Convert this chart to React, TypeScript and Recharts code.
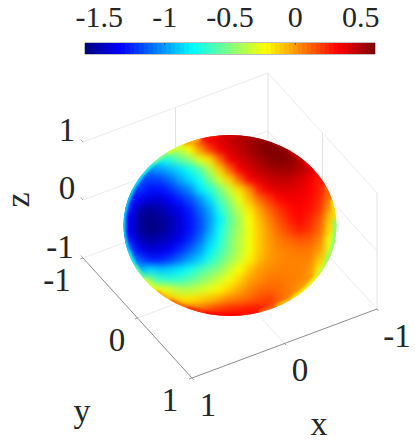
import React from 'react';
import {
  Bar,
  BarChart,
  ReferenceArea,
  ReferenceLine,
  Scatter,
  ScatterChart,
  XAxis,
  YAxis,
} from 'recharts';

const WIDTH = 415;
const HEIGHT = 446;
const SERIF = '"Liberation Serif", serif';

// colour scale limits
const V_MIN = -1.61;
const V_MAX = 0.61;

const colorbarTicks = [-1.5, -1, -0.5, 0, 0.5];
const colorbarLevels = [
  -1.593, -1.558, -1.523, -1.488, -1.454, -1.419, -1.384, -1.35, -1.315, -1.28, -1.245, -1.211, -1.176, -1.141, -1.107, -1.072,
  -1.037, -1.002, -0.968, -0.933, -0.898, -0.864, -0.829, -0.794, -0.759, -0.725, -0.69, -0.655, -0.621, -0.586, -0.551, -0.516,
  -0.482, -0.447, -0.412, -0.378, -0.343, -0.308, -0.273, -0.239, -0.204, -0.169, -0.135, -0.1, -0.065, -0.03, 0.004, 0.039,
  0.074, 0.108, 0.143, 0.178, 0.213, 0.247, 0.282, 0.317, 0.351, 0.386, 0.421, 0.456, 0.49, 0.525, 0.56, 0.594,
];

// sphere surface sampled on the picture plane
const sphereColumns = [120, 130, 140, 150, 160, 170, 180, 190, 200, 210, 220, 230, 240, 250, 260, 270, 280, 290, 300, 310, 320, 330, 340];
const sphereRows = [130, 140, 150, 160, 170, 180, 190, 200, 210, 220, 230, 240, 250, 260, 270, 280, 290, 300, 310, 320];
const sphereValues = [
  [-0.3, -0.3, -0.3, -0.3, -0.25, -0.2, -0.1, 0.05, 0.25, 0.38, 0.42, 0.47, 0.5, 0.52, 0.53, 0.55, 0.55, 0.52, 0.5, 0.45, 0.4, 0.35, 0.3],
  [-0.4, -0.4, -0.4, -0.35, -0.3, -0.25, -0.15, -0.03, 0.2, 0.36, 0.4, 0.45, 0.5, 0.54, 0.57, 0.58, 0.57, 0.54, 0.5, 0.45, 0.4, 0.35, 0.3],
  [-0.6, -0.6, -0.55, -0.5, -0.45, -0.42, -0.36, -0.22, 0, 0.2, 0.36, 0.42, 0.47, 0.53, 0.59, 0.61, 0.6, 0.56, 0.5, 0.45, 0.4, 0.35, 0.3],
  [-0.85, -0.85, -0.85, -0.82, -0.76, -0.68, -0.57, -0.47, -0.28, -0.16, 0.1, 0.35, 0.42, 0.48, 0.53, 0.59, 0.61, 0.58, 0.5, 0.42, 0.38, 0.35, 0.3],
  [-1.05, -1.05, -1.05, -1.05, -1, -0.93, -0.85, -0.74, -0.6, -0.38, -0.12, 0.12, 0.34, 0.42, 0.48, 0.52, 0.54, 0.54, 0.5, 0.42, 0.38, 0.35, 0.3],
  [-1.2, -1.2, -1.15, -1.2, -1.18, -1.1, -0.97, -0.86, -0.74, -0.52, -0.32, -0.12, 0.12, 0.34, 0.39, 0.44, 0.47, 0.46, 0.42, 0.36, 0.28, 0.18, 0.1],
  [-1.3, -1.25, -1.22, -1.3, -1.3, -1.24, -1.13, -1.03, -0.83, -0.7, -0.52, -0.33, -0.15, 0.03, 0.28, 0.37, 0.4, 0.4, 0.38, 0.34, 0.27, 0.12, 0],
  [-1.3, -1.25, -1.35, -1.42, -1.42, -1.35, -1.27, -1.17, -1.03, -0.85, -0.62, -0.45, -0.26, -0.07, 0.1, 0.22, 0.32, 0.35, 0.35, 0.32, 0.25, 0.05, -0.1],
  [-1.3, -1.3, -1.5, -1.55, -1.52, -1.45, -1.37, -1.27, -1.12, -0.96, -0.72, -0.52, -0.35, -0.18, -0.02, 0.12, 0.22, 0.3, 0.33, 0.3, 0.21, -0.02, -0.2],
  [-1.35, -1.35, -1.55, -1.6, -1.57, -1.5, -1.42, -1.3, -1.17, -1, -0.8, -0.58, -0.4, -0.22, -0.07, 0.05, 0.17, 0.26, 0.32, 0.25, 0.15, -0.12, -0.5],
  [-1.35, -1.35, -1.55, -1.6, -1.58, -1.5, -1.42, -1.3, -1.17, -0.98, -0.75, -0.55, -0.4, -0.24, -0.1, 0.02, 0.12, 0.2, 0.27, 0.22, 0.11, -0.15, -0.5],
  [-1.3, -1.3, -1.47, -1.53, -1.5, -1.45, -1.37, -1.25, -1.1, -0.9, -0.72, -0.52, -0.37, -0.24, -0.1, 0, 0.07, 0.12, 0.15, 0.14, 0.05, -0.25, -0.5],
  [-1.15, -1.15, -1.35, -1.42, -1.4, -1.35, -1.25, -1.13, -1, -0.82, -0.66, -0.5, -0.37, -0.24, -0.1, -0.01, 0.04, 0.06, 0.08, 0.07, 0, -0.3, -0.5],
  [-1, -1, -1.15, -1.27, -1.27, -1.2, -1.1, -0.98, -0.88, -0.72, -0.58, -0.45, -0.33, -0.2, -0.07, 0, 0.03, 0.05, 0.05, 0.05, -0.1, -0.4, -0.5],
  [-0.9, -0.9, -0.95, -0.85, -0.9, -0.88, -0.82, -0.74, -0.64, -0.55, -0.47, -0.34, -0.22, -0.1, 0, 0.03, 0.05, 0.05, 0.05, 0.02, -0.2, -0.4, -0.5],
  [-0.6, -0.6, -0.6, -0.5, -0.65, -0.68, -0.66, -0.6, -0.5, -0.42, -0.33, -0.24, -0.13, -0.02, 0.03, 0.07, 0.08, 0.06, 0.05, 0, -0.2, -0.4, -0.5],
  [-0.3, -0.3, -0.3, -0.3, -0.25, -0.3, -0.38, -0.38, -0.33, -0.27, -0.2, -0.12, -0.03, 0.04, 0.1, 0.12, 0.1, 0.06, 0, -0.1, -0.2, -0.3, -0.4],
  [-0.1, -0.1, -0.1, -0.1, -0.1, -0.1, -0.15, -0.17, -0.13, -0.08, -0.02, 0.05, 0.08, 0.12, 0.17, 0.2, 0.12, 0.05, 0, -0.1, -0.1, -0.1, -0.1],
  [0.1, 0.1, 0.1, 0.1, 0.1, 0.1, 0.1, 0.1, 0.12, 0.17, 0.22, 0.25, 0.27, 0.3, 0.28, 0.2, 0.1, 0.05, 0, 0, 0, 0, 0],
  [0.3, 0.3, 0.3, 0.3, 0.3, 0.3, 0.3, 0.3, 0.3, 0.3, 0.33, 0.33, 0.33, 0.33, 0.33, 0.25, 0.15, 0.1, 0.1, 0.1, 0.1, 0.1, 0.1],
];

// values right at the silhouette, going round it clockwise from the right edge
const rimAngles = [0, 10, 20, 30, 40, 50, 60, 70, 80, 90, 100, 110, 120, 130, 140, 150, 160, 170, 180, 190, 200, 210, 220, 230, 240, 250, 260, 270, 280, 290, 300, 310, 320, 330, 340, 350];
const rimValues = [-0.5, -0.5, -0.45, -0.4, -0.3, -0.2, -0.1, 0.1, 0.28, 0.33, 0.33, 0.25, 0.1, -0.05, -0.3, -0.55, -0.75, -0.85, -0.85, -0.85, -0.85, -0.8, -0.7, -0.5, -0.3, -0.05, 0.3, 0.42, 0.5, 0.55, 0.55, 0.45, 0.38, 0.3, 0.12, -0.15];

const axisTicks = [-1, 0, 1];

const xTickLabels = [
  { x: 208, y: 405, label: '1' },
  { x: 300, y: 370, label: '0' },
  { x: 397, y: 336, label: '-1' },
];
const yTickLabels = [
  { x: 57, y: 280, label: '-1' },
  { x: 117, y: 340, label: '0' },
  { x: 170, y: 400, label: '1' },
];
const zTickLabels = [
  { x: 67, y: 130, label: '1' },
  { x: 67, y: 188, label: '0' },
  { x: 60, y: 247, label: '-1' },
];
const axisNames = [
  { x: 319, y: 424, label: 'x', angle: 0 },
  { x: 82, y: 411, label: 'y', angle: 0 },
  { x: 18, y: 200, label: 'z', angle: -90 },
];

// box projection: picture position of (x, y, z)
const project = (x: number, y: number, z: number) => ({
  x: 230 - 92.5 * x + 54.5 * y,
  y: 283.5 + 34.5 * x + 60 * y - 58 * (z + 1),
});
const path = (...pts: number[][]) => pts.map(([x, y, z]) => project(x, y, z));

const jet = (v: number) => {
  const t = (v - V_MIN) / (V_MAX - V_MIN);
  const ch = (c: number) => Math.round(255 * Math.max(0, Math.min(1, 1.5 - Math.abs(4 * t - c))));
  return `rgb(${ch(3)},${ch(2)},${ch(1)})`;
};

const gridLines = [
  ...axisTicks.map((z) => path([1, -1, z], [-1, -1, z])),
  ...axisTicks.map((z) => path([-1, -1, z], [-1, 1, z])),
];
const floorLines = [path([0, -1, -1], [0, 1, -1]), path([-1, 0, -1], [1, 0, -1])];
const verticalLines = [
  path([0, -1, -1], [0, -1, 1]),
  path([-1, -1, -1], [-1, -1, 1]),
  path([-1, 0, -1], [-1, 0, 1]),
  path([-1, 1, -1], [-1, 1, 1]),
];
const frontAxes = [path([1, -1, -1], [1, 1, -1]), path([1, 1, -1], [-1, 1, -1])];
const tickMarks = [
  ...axisTicks.map((z) => path([1, -1, z], [1, -1.04, z])),
  ...axisTicks.map((y) => path([1, y, -1], [1.03, y, -1])),
  ...axisTicks.map((x) => path([x, 1, -1], [x, 1.03, -1])),
];

const sphereCells = sphereRows.flatMap((y, r) => sphereColumns.map((x, c) => ({ x, y, v: sphereValues[r][c] })));
const rimPoints = rimAngles.map((a, i) => {
  const rad = (a * Math.PI) / 180;
  return {
    x: 230 + 106.5 * Math.cos(rad),
    y: 225.5 + 90.5 * Math.sin(rad),
    v: rimValues[i],
    tangent: (Math.atan2(90.5 * Math.cos(rad), -106.5 * Math.sin(rad)) * 180) / Math.PI,
  };
});

const PlaneAxes = () => (
  <>
    <XAxis type="number" dataKey="x" domain={[0, WIDTH]} hide />
    <YAxis type="number" dataKey="y" domain={[0, HEIGHT]} reversed hide />
  </>
);

const noDot = () => <g />;

const textShape = (size: number) => (p: any) => {
  const { label, angle = 0 } = p.payload;
  return (
    <text
      x={0}
      y={0}
      transform={`translate(${p.cx},${p.cy}) rotate(${angle})`}
      textAnchor="middle"
      dy={size * 0.33}
      fontFamily={SERIF}
      fontSize={size}
      fill="#262626"
    >
      {label}
    </text>
  );
};

const cellShape = (p: any) => (
  <rect x={p.cx - 5.5} y={p.cy - 5.5} width={11} height={11} fill={jet(p.payload.v)} />
);
const rimShape = (p: any) => (
  <rect
    x={-11}
    y={-2.5}
    width={22}
    height={5}
    transform={`translate(${p.cx},${p.cy}) rotate(${p.payload.tangent})`}
    fill={jet(p.payload.v)}
  />
);
const levelShape = (p: any) => (
  <rect
    x={Math.round(p.x + p.width / 2 - 2.5)}
    y={p.y}
    width={5}
    height={p.height}
    fill={jet(p.payload.level)}
  />
);

const layer: React.CSSProperties = { position: 'absolute', left: 0, top: 0, width: WIDTH, height: HEIGHT };
const outline = 'ellipse(106.5px 90.5px at 230px 225.5px)';
const margin = { top: 0, right: 0, bottom: 0, left: 0 };

const lineSeries = (lines: { x: number; y: number }[][], stroke: string, strokeWidth: number, name: string) =>
  lines.map((data, i) => (
    <Scatter
      key={`${name}-${i}`}
      data={data}
      line={{ stroke, strokeWidth }}
      shape={noDot}
      isAnimationActive={false}
    />
  ));

export default function App() {
  return (
    <div style={{ ...layer, background: '#fff' }}>
      <div style={layer}>
        <ScatterChart width={WIDTH} height={HEIGHT} margin={margin}>
          <PlaneAxes />
          {lineSeries(gridLines, '#e6e6e6', 0.8, 'grid')}
          {lineSeries(floorLines, '#e6e6e6', 0.8, 'floor')}
          {lineSeries(verticalLines, '#e2e2e2', 1, 'vertical')}
          {lineSeries(frontAxes, '#6e6e6e', 0.8, 'axis')}
          {lineSeries(tickMarks, '#8a8a8a', 0.8, 'tick')}
          <Scatter data={xTickLabels} shape={textShape(33)} isAnimationActive={false} />
          <Scatter data={yTickLabels} shape={textShape(33)} isAnimationActive={false} />
          <Scatter data={zTickLabels} shape={textShape(33)} isAnimationActive={false} />
          <Scatter data={axisNames} shape={textShape(34)} isAnimationActive={false} />
        </ScatterChart>
      </div>

      <div style={{ ...layer, clipPath: outline }}>
        <div style={{ ...layer, filter: 'blur(3.5px)' }}>
          <ScatterChart width={WIDTH} height={HEIGHT} margin={margin}>
            <PlaneAxes />
            <Scatter data={sphereCells} shape={cellShape} isAnimationActive={false} />
          </ScatterChart>
        </div>
      </div>

      <div style={{ ...layer, clipPath: outline }}>
        <div style={{ ...layer, filter: 'blur(1.5px)' }}>
          <ScatterChart width={WIDTH} height={HEIGHT} margin={margin}>
            <PlaneAxes />
            <Scatter data={rimPoints} shape={rimShape} isAnimationActive={false} />
          </ScatterChart>
        </div>
      </div>

      <div style={{ ...layer, height: 60 }}>
        <BarChart
          width={WIDTH}
          height={60}
          data={colorbarLevels.map((level) => ({ level, span: 1 }))}
          margin={{ top: 0, right: 40, bottom: 6, left: 85 }}
        >
          <XAxis
            type="number"
            dataKey="level"
            orientation="top"
            height={43}
            domain={[V_MIN, V_MAX]}
            ticks={colorbarTicks}
            tickFormatter={(t: number) => String(t)}
            axisLine={false}
            tickLine={false}
            tickSize={0}
            tickMargin={16}
            interval={0}
            allowDataOverflow
            tick={{ fontFamily: SERIF, fontSize: 30, fill: '#262626' }}
          />
          <YAxis type="number" domain={[0, 1]} hide />
          <Bar dataKey="span" barSize={4} shape={levelShape} isAnimationActive={false} />
          <ReferenceArea x1={V_MIN} x2={V_MAX} y1={0} y2={1} fill="none" stroke="#808080" strokeWidth={1} />
          <ReferenceLine segment={[{ x: -1, y: 1 }, { x: -1, y: 0.85 }]} stroke="#262626" strokeWidth={0.8} />
          <ReferenceLine segment={[{ x: 0, y: 1 }, { x: 0, y: 0.85 }]} stroke="#262626" strokeWidth={0.8} />
        </BarChart>
      </div>
    </div>
  );
}
